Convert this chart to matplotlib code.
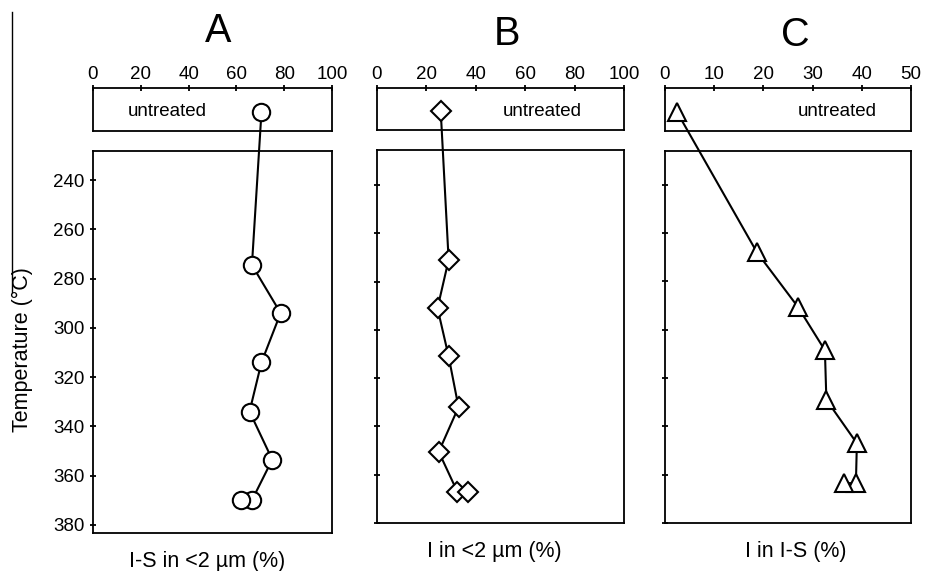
import matplotlib
matplotlib.use("Agg")
import matplotlib.pyplot as plt
from matplotlib.patches import ConnectionPatch
from matplotlib.lines import Line2D

plt.rcParams['font.family'] = ['Liberation Sans', 'DejaVu Sans']

# --- Data ---
# panel A: I-S in <2 um (%)
a_untreated = 70.5
a_temp = [274.5, 294, 314, 334, 353.5, 370, 370]
a_vals = [66.5, 78.5, 70.5, 65.5, 75, 66.5, 62]

# panel B: I in <2 um (%)
b_untreated = 25.8
b_temp = [271, 291, 311, 332, 350.5, 367, 367]
b_vals = [29, 24.5, 29, 33, 25, 32.5, 37]

# panel C: I in I-S (%)
c_untreated = 2.4
c_temp = [268, 290.5, 308.5, 329, 347, 363.5, 363.5]
c_vals = [18.7, 27, 32.5, 32.8, 39, 38.8, 36.4]

temp_ticks = [240, 260, 280, 300, 320, 340, 360, 380]

W, H = 926, 571
fig = plt.figure(figsize=(W / 100, H / 100), dpi=100)


def rect(x0, x1, y0, y1):
    # pixel box -> figure fraction
    return [x0 / W, 1 - y1 / H, (x1 - x0) / W, (y1 - y0) / H]


panels = [
    dict(title="A", xmax=100, xticks=[0, 20, 40, 60, 80, 100], untreated=a_untreated,
         temp=a_temp, vals=a_vals, marker="o", ms=12.5, label="I-S in <2 µm (%)",
         top=rect(93, 332, 88, 131), main=rect(93, 332, 151, 533), ylim=(383.3, 228.2),
         utext=31, title_x=218, title_y=42, ylabels=True, lab_x=207, lab_y=567),
    dict(title="B", xmax=100, xticks=[0, 20, 40, 60, 80, 100], untreated=b_untreated,
         temp=b_temp, vals=b_vals, marker="D", ms=10, label="I in <2 µm (%)",
         top=rect(377, 624, 88, 130), main=rect(377, 624, 150, 523), ylim=(380, 225.5),
         utext=67, title_x=507, title_y=45, ylabels=False, lab_x=494, lab_y=557),
    dict(title="C", xmax=50, xticks=[0, 10, 20, 30, 40, 50], untreated=c_untreated,
         temp=c_temp, vals=c_vals, marker="^", ms=13, label="I in I-S (%)",
         top=rect(665, 911, 88, 131), main=rect(665, 911, 151, 523), ylim=(380, 226),
         utext=35, title_x=795, title_y=46, ylabels=False, lab_x=796, lab_y=557),
]

lw = 1.5
for p in panels:
    ax_top = fig.add_axes(p["top"])
    ax = fig.add_axes(p["main"])
    for a in (ax_top, ax):
        a.set_facecolor("none")
        for s in a.spines.values():
            s.set_linewidth(1.3)

    # untreated box
    ax_top.set_xlim(0, p["xmax"])
    ax_top.set_ylim(0, 1)
    ax_top.set_yticks([])
    ax_top.set_xticks(p["xticks"])
    ax_top.xaxis.tick_top()
    ax_top.tick_params(axis="x", direction="inout", length=5, width=1.3, pad=1,
                       labelsize=13.5)
    ax_top.plot([p["untreated"]], [0.45], marker=p["marker"], ms=p["ms"], mfc="white",
                mec="black", mew=1.5, ls="none", zorder=5, clip_on=False)
    ax_top.text(p["utext"], 0.45, "untreated", ha="center", va="center", fontsize=13.5)

    # heated samples
    ax.set_xlim(0, p["xmax"])
    ax.set_ylim(*p["ylim"])
    ax.set_xticks([])
    ax.set_yticks(temp_ticks)
    ax.tick_params(axis="y", direction="inout", length=4, width=1.3, pad=4,
                   labelsize=13.5, labelleft=p["ylabels"])
    ax.plot(p["vals"], p["temp"], color="black", lw=lw, marker=p["marker"], ms=p["ms"],
            mfc="white", mec="black", mew=1.5, zorder=5, clip_on=False)

    # line from untreated point down to the first heated point
    con = ConnectionPatch(xyA=(p["untreated"], 0.45), coordsA=ax_top.transData,
                          xyB=(p["vals"][0], p["temp"][0]), coordsB=ax.transData,
                          color="black", lw=lw, zorder=1)
    ax_top.add_artist(con)

    fig.text(p["title_x"] / W, 1 - p["title_y"] / H, p["title"], fontsize=28.5,
             ha="center", va="baseline")
    fig.text(p["lab_x"] / W, 1 - p["lab_y"] / H, p["label"], fontsize=15.5,
             ha="center", va="baseline")

fig.text(22 / W, 1 - 350 / H, "Temperature (°C)", rotation=90, fontsize=15.5,
         ha="center", va="center")

# stray frame line at the left edge of the original figure
fig.add_artist(Line2D([11.5 / W, 11.5 / W], [1 - 12 / H, 1 - 292 / H], color="black",
                      lw=1.0))

fig.savefig("out.png", dpi=100)
